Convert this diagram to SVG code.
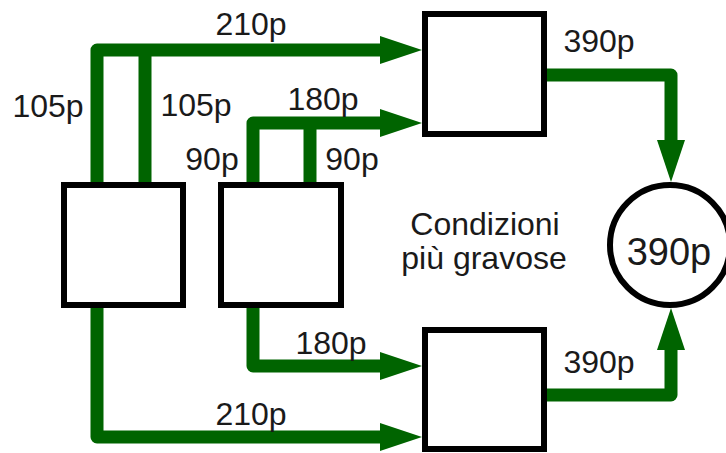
<svg xmlns="http://www.w3.org/2000/svg" width="726" height="453" viewBox="0 0 726 453">
<style>
.box{fill:#fff;stroke:#000;stroke-width:6}
.flow{fill:none;stroke:#006400;stroke-width:13;stroke-linejoin:round;marker-end:url(#ah)}
.br{fill:none;stroke:#006400;stroke-width:13}
text{font-family:"Liberation Sans",Arial,sans-serif;fill:#1a1a1a}
.lbl{font-size:32px}
.mid{text-anchor:middle}
</style>
<defs>
<marker id="ah" markerUnits="userSpaceOnUse" markerWidth="44" markerHeight="30" refX="2" refY="15" orient="auto">
<path d="M0,1 L42,15 L0,29 z" fill="#006400"/>
</marker>
</defs>
<rect width="726" height="453" fill="#fff"/>
<g id="connectors">
<path class="flow" d="M97,182 V50 H382"/>
<path class="br" d="M145,182 V50"/>
<path class="flow" d="M253,182 V123 H382"/>
<path class="br" d="M310,182 V123"/>
<path class="flow" d="M97,308 V437 H382"/>
<path class="flow" d="M253,308 V366 H382"/>
<path class="flow" d="M547,75 H671 V142"/>
<path class="flow" d="M547,395 H671 V348"/>
</g>
<g id="src1"><rect class="box" x="64" y="185" width="119" height="120"/></g>
<g id="src2"><rect class="box" x="221" y="185" width="120" height="120"/></g>
<g id="top"><rect class="box" x="425" y="14" width="119" height="120"/></g>
<g id="bottom"><rect class="box" x="425" y="330" width="119" height="119"/></g>
<g id="sink"><circle cx="670" cy="245" r="60" fill="#fff" stroke="#000" stroke-width="6"/>
<text class="mid" x="669" y="265" font-size="38">390p</text></g>
<g id="labels" class="lbl">
<text class="mid lbl" x="251" y="35">210p</text>
<text class="mid lbl" x="48" y="117">105p</text>
<text class="mid lbl" x="196" y="116">105p</text>
<text class="mid lbl" x="323" y="110">180p</text>
<text class="mid lbl" x="212" y="170">90p</text>
<text class="mid lbl" x="352" y="170">90p</text>
<text class="mid lbl" x="599" y="52">390p</text>
<text class="mid lbl" x="599" y="373">390p</text>
<text class="mid lbl" x="331" y="354">180p</text>
<text class="mid lbl" x="251" y="425">210p</text>
<text class="mid lbl" x="485" y="235">Condizioni</text>
<text class="mid lbl" x="484" y="269">più gravose</text>
</g>
</svg>
